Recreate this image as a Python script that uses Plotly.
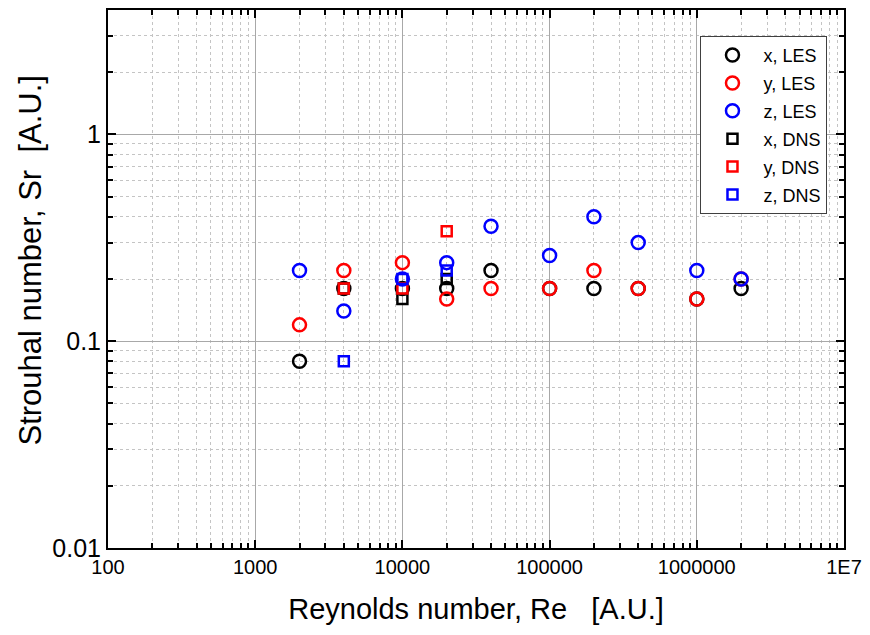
import numpy as np
import plotly.graph_objects as go

# Reynolds numbers and Strouhal numbers per direction
re_les = [2000, 4000, 10000, 20000, 40000, 100000, 200000, 400000, 1000000, 2000000]
sr_x_les = [0.08, 0.18, 0.18, 0.18, 0.22, 0.18, 0.18, 0.18, 0.16, 0.18]
sr_y_les = [0.12, 0.22, 0.24, 0.16, 0.18, 0.18, 0.22, 0.18, 0.16, 0.20]
sr_z_les = [0.22, 0.14, 0.20, 0.24, 0.36, 0.26, 0.40, 0.30, 0.22, 0.20]

re_dns = [4000, 10000, 20000]
sr_x_dns = [0.18, 0.16, 0.20]
sr_y_dns = [0.18, 0.18, 0.34]
sr_z_dns = [0.08, 0.20, 0.22]

x_tickvals = [100, 1000, 10000, 100000, 1000000, 10000000]
x_ticktext = ["100", "1000", "10000", "100000", "1000000", "1E7"]
y_tickvals = [0.01, 0.1, 1]
y_ticktext = ["0.01", "0.1", "1"]

series = [
    ("x, LES", re_les, sr_x_les, "circle-open", "#000000"),
    ("y, LES", re_les, sr_y_les, "circle-open", "#ff0000"),
    ("z, LES", re_les, sr_z_les, "circle-open", "#0000ff"),
    ("x, DNS", re_dns, sr_x_dns, "square-open", "#000000"),
    ("y, DNS", re_dns, sr_y_dns, "square-open", "#ff0000"),
    ("z, DNS", re_dns, sr_z_dns, "square-open", "#0000ff"),
]

FONT = "Liberation Sans, Arial"

fig = go.Figure()
for name, xs, ys, sym, col in series:
    size = 13 if sym.startswith("circle") else 10
    fig.add_trace(go.Scatter(
        x=xs, y=ys, mode="markers", name=name, legendgroup=name,
        marker=dict(symbol=sym, size=size, color=col, line=dict(width=2.5, color=col)),
    ))

def minor_vals(lo, hi):
    out = []
    for e in range(lo, hi):
        for m in range(2, 10):
            out.append(m * 10.0 ** e)
    return out

axis_common = dict(
    type="log",
    showline=True, linecolor="black", linewidth=2, mirror="allticks",
    ticks="inside", ticklen=8, tickwidth=1.5, tickcolor="black",
    showgrid=True, gridcolor="#a8a8a8", gridwidth=1,
    zeroline=False,
)
minor_common = dict(
    tickmode="array", ticks="inside", ticklen=5, tickcolor="black",
    showgrid=True, gridcolor="#c4c4c4", griddash="3px,3px", gridwidth=1,
)

fig.update_xaxes(
    **axis_common,
    range=[2, 7],
    tickmode="array", tickvals=x_tickvals, ticktext=x_ticktext,
    tickfont=dict(family=FONT, size=20, color="black"),
    minor=dict(tickvals=minor_vals(2, 7), **minor_common),
    title=dict(text="Reynolds number, Re   [A.U.]",
               font=dict(family=FONT, size=29, color="black"),
               standoff=22),
)
fig.update_yaxes(
    **axis_common,
    range=[-2, np.log10(4)],
    tickmode="array", tickvals=y_tickvals, ticktext=y_ticktext,
    tickfont=dict(family=FONT, size=25, color="black"),
    minor=dict(tickvals=minor_vals(-2, 1), **minor_common),
)

# vertical axis title
fig.add_annotation(
    text="Strouhal number, Sr  [A.U.]", textangle=-90,
    xref="paper", yref="paper", x=-0.1055, y=0.535,
    xanchor="center", yanchor="middle", showarrow=False,
    font=dict(family=FONT, size=31, color="black"),
)

fig.update_layout(
    width=870, height=635,
    margin=dict(l=108, r=23, t=8, b=87),
    plot_bgcolor="white", paper_bgcolor="white",
    legend=dict(
        x=0.805, y=0.952, xanchor="left", yanchor="top",
        bgcolor="white", bordercolor="#404040", borderwidth=1,
        font=dict(family=FONT, size=18, color="black"),
        tracegroupgap=1.5, itemwidth=52,
    ),
    showlegend=True,
)

fig.write_html("out.html")
